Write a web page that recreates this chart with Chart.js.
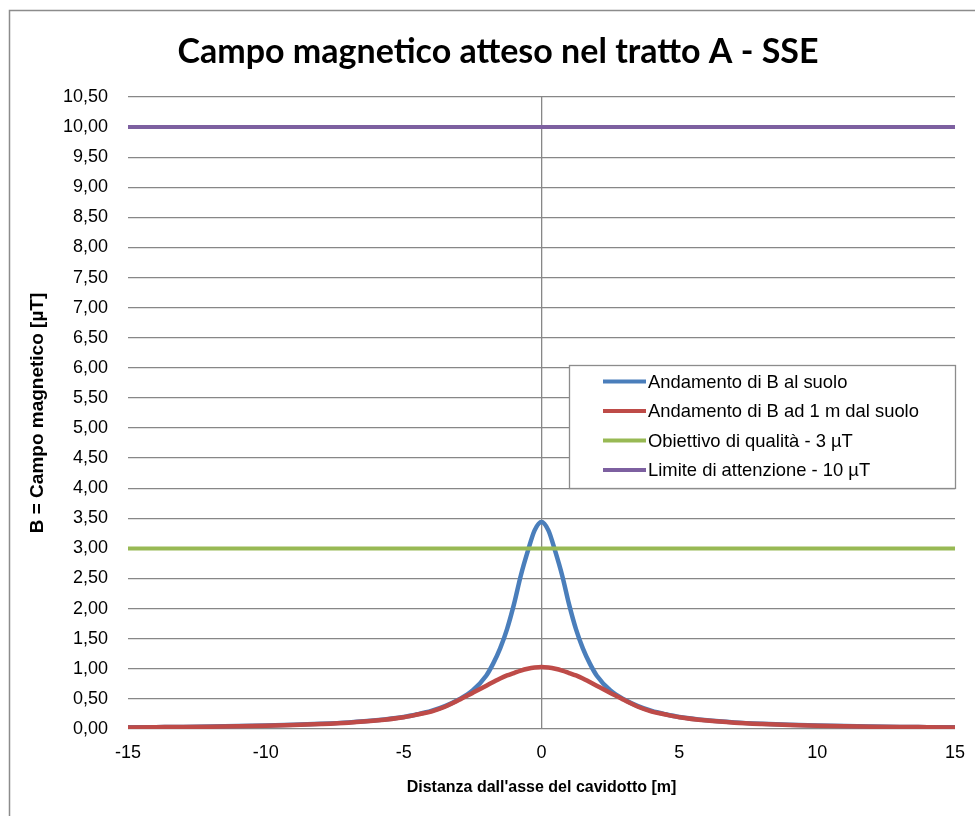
<!DOCTYPE html>
<html>
<head>
<meta charset="utf-8">
<script src="https://cdn.jsdelivr.net/npm/chart.js@4.4.1/dist/chart.umd.min.js"></script>
<style>
  body { margin: 0; background: #fff; }
  canvas { display: block; }
</style>
</head>
<body>
<canvas id="fieldChart" width="975" height="816"></canvas>
<script>
// distanza dall'asse [m]
const distance = [-15,-14,-13,-12,-11,-10,-9,-8,-7,-6,-5,-4.5,-4,-3.5,-3,-2.5,-2,-1.75,-1.5,-1.25,-1,-0.75,-0.5,-0.25,
  0,0.25,0.5,0.75,1,1.25,1.5,1.75,2,2.5,3,3.5,4,4.5,5,6,7,8,9,10,11,12,13,14,15];
// B al suolo [uT]
const bGround = [0.027,0.031,0.035,0.041,0.048,0.057,0.07,0.087,0.11,0.145,0.20,0.245,0.30,0.38,0.49,0.64,0.89,1.09,1.34,1.66,2.07,2.55,2.95,3.30,
  3.44,3.30,2.95,2.55,2.07,1.66,1.34,1.09,0.89,0.64,0.49,0.38,0.30,0.245,0.20,0.145,0.11,0.087,0.07,0.057,0.048,0.041,0.035,0.031,0.027];
// B ad 1 m dal suolo [uT]
const bOneMeter = [0.026,0.03,0.034,0.039,0.046,0.055,0.067,0.083,0.105,0.14,0.195,0.24,0.29,0.37,0.48,0.60,0.72,0.78,0.84,0.89,0.93,0.97,1.00,1.02,
  1.03,1.02,1.00,0.97,0.93,0.89,0.84,0.78,0.72,0.60,0.48,0.37,0.29,0.24,0.195,0.14,0.105,0.083,0.067,0.055,0.046,0.039,0.034,0.03,0.026];
const limitRange = [-15, 15];
const qualityTarget = 3;
const attentionLimit = 10;
const chartTitle = 'Campo magnetico atteso nel tratto A - SSE';
const seriesLabels = ['Andamento di B al suolo', 'Andamento di B ad 1 m dal suolo',
  'Obiettivo di qualità - 3 µT', 'Limite di attenzione - 10 µT'];

const toPoints = (xs, ys) => xs.map((x, i) => ({x: x, y: ys[i]}));
const flatLine = (v) => limitRange.map(x => ({x: x, y: v}));

const titleFont = "Lato, 'Liberation Sans', sans-serif";
const regular = "'Liberation Sans', Arial, sans-serif";
const gridGrey = '#878787';

// cornice del grafico
const frame = {
  id: 'frame',
  beforeDraw(chart) {
    const ctx = chart.ctx;
    ctx.save();
    ctx.fillStyle = '#fff';
    ctx.fillRect(0, 0, chart.width, chart.height);
    ctx.strokeStyle = '#8c8c8c';
    ctx.lineWidth = 1.5;
    ctx.strokeRect(9.5, 10.5, 1200, 1200);
    ctx.restore();
  }
};

// titolo (centrato sul riquadro, non sul canvas)
const chartHeading = {
  id: 'chartHeading',
  afterDraw(chart, args, o) {
    const ctx = chart.ctx;
    ctx.save();
    ctx.font = 'bold 34px ' + titleFont;
    ctx.fillStyle = '#000';
    ctx.textAlign = 'center';
    ctx.textBaseline = 'middle';
    ctx.fillText(o.text, o.x, o.y);
    ctx.restore();
  }
};

// legenda dentro l'area del grafico
const legendBox = {
  id: 'legendBox',
  afterDraw(chart, args, o) {
    const ctx = chart.ctx;
    ctx.save();
    ctx.fillStyle = '#fff';
    ctx.fillRect(o.left, o.top, o.width, o.height);
    ctx.strokeStyle = '#8c8c8c';
    ctx.lineWidth = 1.3;
    ctx.strokeRect(o.left + 0.5, o.top + 0.5, o.width, o.height);
    ctx.font = '18.4px ' + regular;
    ctx.textBaseline = 'middle';
    ctx.fillStyle = '#000';
    chart.data.datasets.forEach((ds, i) => {
      const y = o.top + o.firstRow + i * o.rowGap;
      ctx.strokeStyle = ds.borderColor;
      ctx.lineWidth = 4;
      ctx.beginPath();
      ctx.moveTo(o.left + 34, y);
      ctx.lineTo(o.left + 77, y);
      ctx.stroke();
      ctx.fillText(ds.label, o.left + 79, y + 1);
    });
    ctx.restore();
  }
};

const lineStyle = {showLine: true, pointRadius: 0, fill: false, cubicInterpolationMode: 'monotone'};

new Chart(document.getElementById('fieldChart'), {
  type: 'scatter',
  data: {
    datasets: [
      {...lineStyle, label: seriesLabels[0], data: toPoints(distance, bGround), borderColor: '#4A7EBB', borderWidth: 4.5, order: 3},
      {...lineStyle, label: seriesLabels[1], data: toPoints(distance, bOneMeter), borderColor: '#BE4B48', borderWidth: 4.5, order: 2},
      {...lineStyle, label: seriesLabels[2], data: flatLine(qualityTarget), borderColor: '#98B954', borderWidth: 4, order: 1},
      {...lineStyle, label: seriesLabels[3], data: flatLine(attentionLimit), borderColor: '#7D60A0', borderWidth: 4, order: 0}
    ]
  },
  options: {
    responsive: false,
    animation: false,
    layout: {padding: {left: 0, right: 20, top: 97, bottom: 0}},
    plugins: {
      legend: {display: false},
      tooltip: {enabled: false},
      title: {display: false},
      chartHeading: {text: chartTitle, x: 498, y: 52},
      legendBox: {left: 569, top: 365, width: 386, height: 123, firstRow: 16.5, rowGap: 29.5}
    },
    scales: {
      x: {
        type: 'linear',
        min: -15, max: 15,
        afterFit: (s) => { s.height = 87; s.paddingRight = 0; s.paddingLeft = 0; },
        border: {display: false},
        grid: {
          drawTicks: false,
          color: (c) => c.tick && c.tick.value === 0 ? gridGrey : 'rgba(0,0,0,0)',
          lineWidth: 1.3
        },
        ticks: {
          stepSize: 5,
          padding: 13,
          color: '#000',
          font: {family: regular, size: 18},
          callback: (v) => String(v)
        },
        title: {
          display: true,
          text: "Distanza dall'asse del cavidotto [m]",
          color: '#000',
          font: {family: regular, size: 16, weight: 'bold', lineHeight: 1.2},
          padding: {top: 0, bottom: 18.4}
        }
      },
      y: {
        min: 0, max: 10.5,
        afterFit: (s) => { s.width = 128; },
        border: {display: false},
        grid: {drawTicks: false, color: gridGrey, lineWidth: 1.3},
        ticks: {
          stepSize: 0.5,
          padding: 20,
          color: '#000',
          font: {family: regular, size: 18},
          callback: (v) => v.toFixed(2).replace('.', ',')
        },
        title: {
          display: true,
          text: 'B = Campo magnetico [µT]',
          color: '#000',
          font: {family: regular, size: 19, weight: 'bold', lineHeight: 1.2},
          padding: {top: 26.6, bottom: 0}
        }
      }
    }
  },
  plugins: [frame, chartHeading, legendBox]
});
</script>
</body>
</html>
